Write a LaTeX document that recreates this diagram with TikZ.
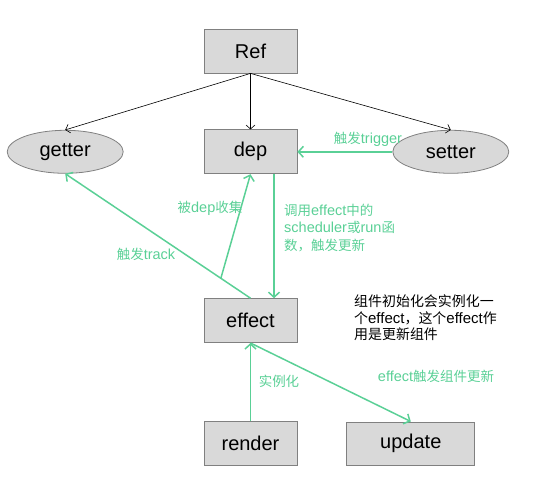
\documentclass[tikz,border=0pt]{standalone}
\usepackage{fontspec}
\setmainfont{Liberation Sans}
\newfontfamily\cjk[Scale=0.93]{Noto Sans CJK SC}
\newcommand\zh[1]{{\cjk #1}}
\usetikzlibrary{arrows.meta,positioning,shapes.geometric}
\definecolor{flowgreen}{RGB}{90,208,150}
\definecolor{boxgray}{RGB}{217,217,217}
\definecolor{edgegray}{RGB}{128,128,128}
\tikzstyle{box}=[rectangle,draw=edgegray,fill=boxgray,minimum width=93pt,minimum height=44pt,inner sep=0pt,line width=0.8pt,font=\fontsize{20}{24}\selectfont]
\tikzstyle{wide box}=[box,minimum width=128pt,minimum height=43pt]
\tikzstyle{prop}=[box,ellipse,minimum width=116pt,minimum height=43pt]
\tikzstyle{owns}=[-{Straight Barb[length=4pt,width=9pt]},black,line width=0.6pt]
\tikzstyle{flow}=[-{Straight Barb[length=5pt,width=11pt]},flowgreen,line width=1.5pt]
\tikzstyle{note}=[inner sep=0pt,text=flowgreen,font=\fontsize{14.5}{17.5}\selectfont]
\tikzstyle{remark}=[inner sep=0pt,text=black,align=left,font=\fontsize{15}{16.5}\selectfont]

\begin{document}
\begin{tikzpicture}[x=1pt,y=-1pt]

\useasboundingbox (0,0) rectangle (554,500) ;

\node (ref) [box] at (250.5,51) {Ref} ;
\node (dep) [box,below=56pt of ref] {dep} ;
\node (getter) [prop,left=80pt of dep] {getter} ;
\node (setter) [prop,right=95pt of dep] {setter} ;

\draw [owns] (ref.south) -- (getter.north) ;
\draw [owns] (ref.south) -- (dep.north) ;
\draw [owns] (ref.south) -- (setter.north) ;

\node (effect) [box,below=124pt of dep] {effect} ;
\node (render) [box,below=78pt of effect] {render} ;
\node (update) [wide box,right=49pt of render] {update} ;

\draw [flow] (setter) -- (dep) ;
\draw [flow] ([xshift=23.5pt]dep.south) -- ([xshift=23.5pt]effect.north) ;
\draw [flow] (effect.north) -- coordinate [pos=0.16] (collect) (getter.south) ;
\draw [flow] (collect) -- (dep.south) ;
\draw [flow] (render) -- (effect) ;
\draw [flow] (effect.south) -- (update.north) ;

\node (trigger-note) [note] at (368,139) {\zh{触发}trigger} ;
\node (collect-note) [note] at (210,208) {\zh{被}dep\zh{收集}} ;
\node (track-note) [note] at (146,254) {\zh{触发}track} ;
\node (call-note) [note,align=left,anchor=west] at (284,228) {\zh{调用}effect\zh{中的}\\scheduler\zh{或}run\zh{函}\\\zh{数，触发更新}} ;
\node (create-note) [note] at (279,381) {\zh{实例化}} ;
\node (update-note) [note] at (436,376) {effect\zh{触发组件更新}} ;

\node (effect-remark) [remark,anchor=west] at (354,318) {\zh{组件初始化会实例化一}\\\zh{个}effect\zh{，这个}effect\zh{作}\\\zh{用是更新组件}} ;

\end{tikzpicture}
\end{document}
